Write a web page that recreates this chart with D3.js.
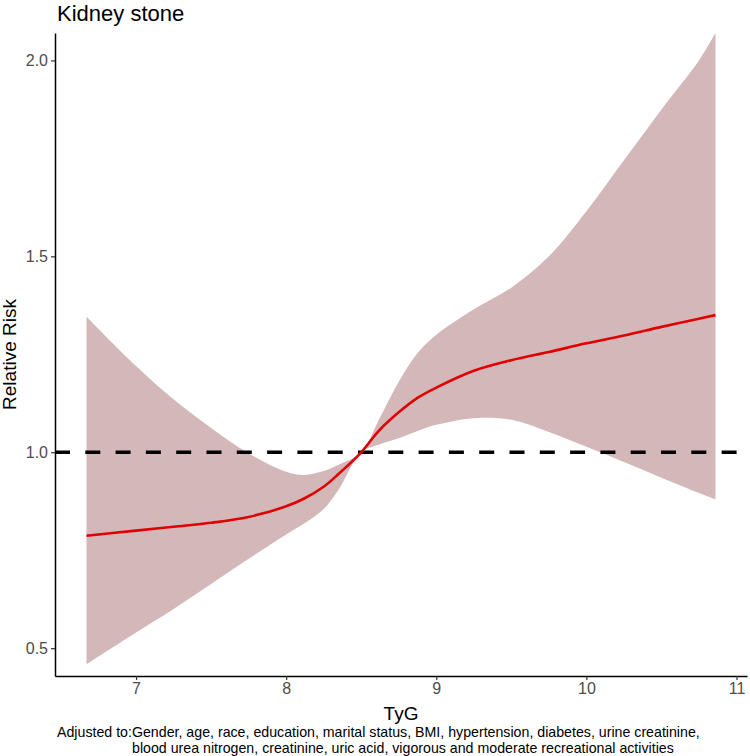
<!DOCTYPE html>
<html><head><meta charset="utf-8">
<script src="https://cdn.jsdelivr.net/npm/d3@7"></script>
<style>body{margin:0;background:#fff}svg{font-family:"Liberation Sans",Arial,sans-serif}</style>
</head><body><svg id="c" width="750" height="756"></svg>
<script>
const tyg   = [6.67, 7.0, 7.25, 7.5, 7.75, 8.0, 8.12, 8.25, 8.35, 8.5, 8.62, 8.75, 8.88, 9.0, 9.25, 9.5, 9.75, 10.0, 10.25, 10.5, 10.75, 10.86];
const rr    = [0.787, 0.80, 0.81, 0.82, 0.835, 0.862, 0.882, 0.912, 0.945, 1.0, 1.056, 1.102, 1.14, 1.165, 1.208, 1.235, 1.256, 1.278, 1.298, 1.32, 1.341, 1.35];
const upper = [1.346, 1.22, 1.135, 1.062, 0.997, 0.95, 0.942, 0.952, 0.968, 1.0, 1.085, 1.18, 1.255, 1.30, 1.365, 1.42, 1.50, 1.615, 1.745, 1.875, 2.0, 2.07];
const lower = [0.459, 0.54, 0.60, 0.664, 0.728, 0.79, 0.818, 0.855, 0.905, 1.0, 1.02, 1.036, 1.055, 1.07, 1.087, 1.083, 1.052, 1.014, 0.975, 0.935, 0.896, 0.88];
const xTicks = [7, 8, 9, 10, 11];
const yTicks = [0.5, 1.0, 1.5, 2.0];
const refLine = 1.0;
const title = "Kidney stone";
const xTitle = "TyG";
const yTitle = "Relative Risk";
const caption = ["Adjusted to:Gender, age, race, education, marital status, BMI, hypertension, diabetes, urine creatinine,",
                 "blood urea nitrogen, creatinine, uric acid, vigorous and moderate recreational activities"];

const svg = d3.select("#c");
const L = 55, R = 747, T = 33, B = 676;
const x = d3.scaleLinear().domain([6.46, 11.07]).range([L, R]);
const y = d3.scaleLinear().domain([0.429, 2.07]).range([B, T]);
const data = tyg.map((t, i) => ({t, rr: rr[i], lo: lower[i], hi: upper[i]}));
const curve = d3.curveCatmullRom.alpha(0.5);

svg.append("path").datum(data)
  .attr("d", d3.area().curve(curve).x(d => x(d.t)).y0(d => y(d.lo)).y1(d => y(d.hi)))
  .attr("fill", "#d3b7b9");

svg.append("line").attr("x1", L).attr("x2", R).attr("y1", y(refLine)).attr("y2", y(refLine))
  .attr("stroke", "#000").attr("stroke-width", 3.4).attr("stroke-dasharray", "15,15.3");

svg.append("path").datum(data)
  .attr("d", d3.line().curve(curve).x(d => x(d.t)).y(d => y(d.rr)))
  .attr("fill", "none").attr("stroke", "#e00000").attr("stroke-width", 2.6);

const xa = svg.append("g").attr("transform", `translate(0,${B})`)
  .call(d3.axisBottom(x).tickValues(xTicks).tickFormat(d3.format("d")).tickSizeInner(4).tickSizeOuter(0).tickPadding(3));
const ya = svg.append("g").attr("transform", `translate(${L},0)`)
  .call(d3.axisLeft(y).tickValues(yTicks).tickFormat(d3.format(".1f")).tickSizeInner(4).tickSizeOuter(0).tickPadding(3));
[xa, ya].forEach(a => {
  a.select(".domain").attr("stroke", "#000").attr("stroke-width", 1.5);
  a.selectAll(".tick line").attr("stroke", "#333").attr("stroke-width", 1.2);
  a.selectAll(".tick text").attr("fill", "#4d4d4d").style("font-size", "16px").style("font-family", "Liberation Sans, Arial, sans-serif");
});

svg.append("text").attr("x", 57).attr("y", 21).text(title)
  .style("font-size", "22px").attr("fill", "#000");
svg.append("text").attr("x", (L + R) / 2).attr("y", 720).attr("text-anchor", "middle").text(xTitle)
  .style("font-size", "19px");
svg.append("text").attr("transform", `translate(15.5,${(T + B) / 2}) rotate(-90)`).attr("text-anchor", "middle").text(yTitle)
  .style("font-size", "19px");
svg.append("text").attr("x", 57).attr("y", 737).text(caption[0]).style("font-size", "14.2px");
svg.append("text").attr("x", 132).attr("y", 753).text(caption[1]).style("font-size", "14.2px");
</script></body></html>
